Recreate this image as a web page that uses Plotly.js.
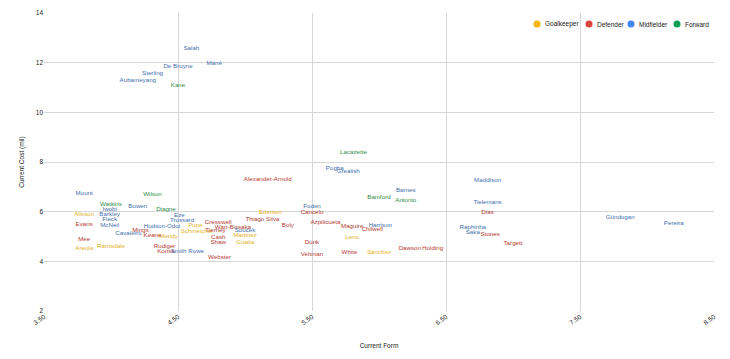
<!DOCTYPE html>
<html>
<head>
<meta charset="utf-8">
<script src="https://cdn.plot.ly/plotly-3.0.1.min.js"></script>
<style>html,body{margin:0;padding:0;background:#fff;}#chart{width:730px;height:359px;}</style>
</head>
<body>
<div id="chart"></div>
<script>
// ---- Data ----
const positions = ["Goalkeeper", "Defender", "Midfielder", "Forward"];

const gkNames = ["Alisson","Areola","Ramsdale","Mendy","Pope","Schmeichel","Ederson","Martinez","Guaita","Leno","Sánchez"];
const gkForm  = [3.80, 3.80, 4.00, 4.43, 4.63, 4.64, 5.19, 5.00, 5.00, 5.80, 6.00];
const gkCost  = [5.90, 4.50, 4.58, 5.02, 5.46, 5.22, 5.98, 5.06, 4.78, 4.98, 4.37];

const defNames = ["Evans","Mee","Mings","Keane","Rudiger","Konsa","Cresswell","Tierney","Wan-Bissaka","Cash","Shaw","Webster","Alexander-Arnold","Thiago Silva","Boly","Cancelo","Azpilicueta","Dunk","Veltman","White","Maguire","Chilwell","Dawson","Holding","Dias","Stones","Targett"];
const defForm  = [3.80, 3.80, 4.22, 4.31, 4.40, 4.41, 4.80, 4.78, 4.91, 4.80, 4.80, 4.81, 5.17, 5.13, 5.32, 5.50, 5.60, 5.50, 5.50, 5.78, 5.80, 5.95, 6.23, 6.40, 6.81, 6.83, 7.00];
const defCost  = [5.50, 4.90, 5.26, 5.06, 4.58, 4.38, 5.58, 5.26, 5.38, 4.98, 4.78, 4.17, 7.31, 5.70, 5.46, 5.98, 5.58, 4.78, 4.29, 4.37, 5.40, 5.30, 4.50, 4.50, 5.98, 5.10, 4.70];

const midNames = ["Mount","Bowen","Iwobi","Barkley","Fleck","McNeil","Hudson-Odoi","Cavaleiro","Eze","Trossard","Soucek","Smith Rowe","Foden","Harrison","Pogba","Grealish","Barnes","Maddison","Tielemans","Raphinha","Saka","Gündogan","Pereira","Salah","Mané","De Bruyne","Sterling","Aubameyang"];
const midForm  = [3.80, 4.20, 3.99, 3.99, 3.99, 3.99, 4.38, 4.13, 4.51, 4.53, 5.00, 4.57, 5.50, 6.01, 5.67, 5.77, 6.20, 6.81, 6.81, 6.70, 6.70, 7.80, 8.20, 4.60, 4.77, 4.50, 4.31, 4.20];
const midCost  = [6.75, 6.19, 6.07, 5.90, 5.70, 5.46, 5.42, 5.14, 5.86, 5.66, 5.26, 4.38, 6.19, 5.46, 7.76, 7.60, 6.87, 7.27, 6.39, 5.38, 5.18, 5.78, 5.54, 12.59, 11.95, 11.83, 11.58, 11.30];

const fwdNames = ["Watkins","Wilson","Diagne","Kane","Lacazette","Bamford","Antonio"];
const fwdForm  = [4.00, 4.31, 4.41, 4.50, 5.81, 6.00, 6.20];
const fwdCost  = [6.31, 6.71, 6.07, 11.10, 8.40, 6.59, 6.47];

// ---- Styling ----
const dotColors  = ["#f4b400", "#db4437", "#4285f4", "#0f9d58"];
const textColors = ["#e3b21e", "#b53a2f", "#3f6fae", "#2d8c46"];
const FONT = "Liberation Sans, Arial, sans-serif";
const FS = 6.2;

const groups = [
  [gkNames, gkForm, gkCost],
  [defNames, defForm, defCost],
  [midNames, midForm, midCost],
  [fwdNames, fwdForm, fwdCost]
];

const traces = groups.map((g, i) => ({
  type: "scatter",
  mode: "text",
  name: positions[i],
  x: g[1],
  y: g[2],
  text: g[0],
  textposition: "middle center",
  textfont: {family: FONT, size: FS, color: textColors[i]},
  showlegend: false,
  hoverinfo: "text+x+y"
}));

// compact legend (dots + labels), laid out like the reference
const legDotPx  = [537, 589, 631, 677];
const plotL = 44, plotW = 670, plotT = 13, plotH = 298;
const legY = 1 - (24 - plotT) / plotH;
const shapes = positions.map((p, i) => ({
  type: "circle", xref: "paper", yref: "paper",
  xsizemode: "pixel", ysizemode: "pixel",
  xanchor: (legDotPx[i] - plotL) / plotW, yanchor: legY,
  x0: -3.5, x1: 3.5, y0: -3.5, y1: 3.5,
  fillcolor: dotColors[i], line: {width: 0}
}));
const annotations = positions.map((p, i) => ({
  text: p, xref: "paper", yref: "paper",
  x: (legDotPx[i] + 6 - plotL) / plotW, y: legY,
  xanchor: "left", yanchor: "middle", showarrow: false,
  font: {family: FONT, size: 6.5, color: "#222"}
}));

const layout = {
  width: 730, height: 359,
  margin: {l: 44, r: 16, t: 13, b: 48},
  paper_bgcolor: "#fff", plot_bgcolor: "#fff",
  font: {family: FONT, size: 6.5, color: "#222"},
  showlegend: false,
  xaxis: {
    range: [3.5, 8.5], tick0: 3.5, dtick: 1, tickformat: ".2f",
    tickangle: -35, showgrid: true, gridcolor: "#d6d6d6", zeroline: false,
    showline: false, ticks: "", tickfont: {size: 6.5, color: "#222"},
    title: {text: "Current Form", font: {size: 6.5, color: "#222"}, standoff: 18}
  },
  yaxis: {
    range: [2, 14], tick0: 2, dtick: 2, showgrid: true, gridcolor: "#d6d6d6",
    zeroline: false, showline: false, ticks: "", tickfont: {size: 6.5, color: "#222"},
    title: {text: "Current Cost (mil)", font: {size: 6.5, color: "#222"}, standoff: 10}
  },
  shapes: shapes,
  annotations: annotations
};

Plotly.newPlot("chart", traces, layout, {displayModeBar: false, staticPlot: true});
</script>
</body>
</html>
